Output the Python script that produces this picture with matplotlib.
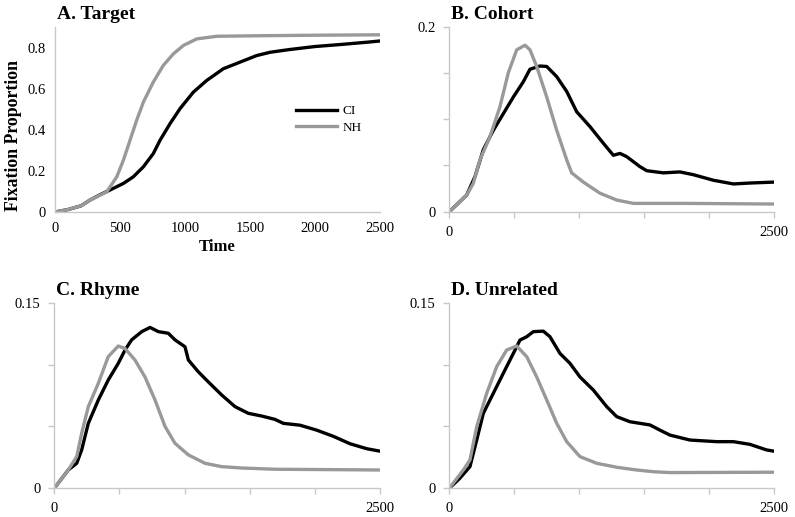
import numpy as np
import matplotlib
matplotlib.use("Agg")
import matplotlib.pyplot as plt
from matplotlib.ticker import FixedLocator, FixedFormatter

plt.rcParams['font.family'] = ['Liberation Serif', 'DejaVu Serif']

# ---- data ----
a_ci_t = [0, 100, 200, 269, 350, 423, 526, 602, 680, 756, 808, 885, 962, 1064, 1167, 1295, 1423,
          1551, 1654, 1800, 2000, 2200, 2400, 2500]
a_ci_v = [0.0, 0.012, 0.03, 0.058, 0.085, 0.107, 0.139, 0.171, 0.22, 0.284, 0.349, 0.43, 0.503,
          0.583, 0.64, 0.697, 0.729, 0.761, 0.777, 0.79, 0.805, 0.815, 0.826, 0.832]
a_nh_t = [0, 100, 200, 269, 398, 475, 526, 577, 628, 680, 756, 833, 910, 987, 1090, 1244, 1654,
          2000, 2500]
a_nh_v = [0.0, 0.012, 0.03, 0.058, 0.098, 0.171, 0.252, 0.349, 0.446, 0.535, 0.632, 0.713, 0.769,
          0.81, 0.842, 0.855, 0.858, 0.86, 0.862]

b_ci_t = [0, 60, 134, 198, 262, 339, 416, 493, 570, 621, 698, 750, 827, 904, 981, 1083, 1186, 1263,
          1314, 1366, 1468, 1520, 1648, 1776, 1879, 2033, 2187, 2315, 2500]
b_ci_v = [0.0, 0.008, 0.018, 0.038, 0.067, 0.088, 0.106, 0.124, 0.1405, 0.154, 0.1575, 0.157,
          0.146, 0.130, 0.108, 0.092, 0.074, 0.061, 0.063, 0.0595, 0.0487, 0.0443, 0.042, 0.043,
          0.040, 0.034, 0.030, 0.031, 0.032]
b_nh_t = [0, 60, 134, 185, 236, 313, 390, 454, 519, 583, 621, 673, 750, 827, 904, 942, 1032, 1160,
          1289, 1417, 1800, 2500]
b_nh_v = [0.0, 0.008, 0.018, 0.0307, 0.056, 0.081, 0.1135, 0.150, 0.175, 0.180, 0.175, 0.157,
          0.124, 0.088, 0.056, 0.042, 0.032, 0.020, 0.0126, 0.009, 0.009, 0.0083]

c_ci_t = [0, 107, 172, 210, 261, 338, 414, 491, 543, 594, 671, 735, 799, 875, 926, 1003, 1029,
          1105, 1182, 1285, 1387, 1489, 1592, 1694, 1758, 1886, 2014, 2142, 2270, 2398, 2500]
c_ci_v = [0.0, 0.0148, 0.0202, 0.031, 0.0525, 0.0714, 0.0875, 0.101, 0.1118, 0.120, 0.1266, 0.130,
          0.1266, 0.1253, 0.120, 0.1144, 0.1037, 0.0942, 0.086, 0.0754, 0.066, 0.0606, 0.0584,
          0.0557, 0.0525, 0.051, 0.047, 0.042, 0.036, 0.032, 0.030]
c_nh_t = [0, 107, 172, 210, 261, 338, 414, 491, 543, 619, 696, 773, 850, 926, 1029, 1157, 1285,
          1438, 1694, 2500]
c_nh_v = [0.0, 0.0148, 0.0256, 0.0444, 0.066, 0.0849, 0.1064, 0.115, 0.113, 0.1037, 0.090, 0.0714,
          0.050, 0.0364, 0.027, 0.0202, 0.0175, 0.0164, 0.0154, 0.0148]

d_ci_t = [0, 80, 159, 211, 262, 339, 416, 493, 544, 596, 647, 724, 775, 852, 929, 1006, 1109, 1212,
          1289, 1391, 1545, 1622, 1699, 1853, 2058, 2187, 2315, 2443, 2500]
d_ci_v = [0.0, 0.008, 0.0175, 0.039, 0.0606, 0.0768, 0.093, 0.109, 0.1198, 0.1225, 0.1266, 0.127,
          0.1225, 0.109, 0.101, 0.090, 0.0794, 0.066, 0.0579, 0.0538, 0.0512, 0.047, 0.043, 0.039,
          0.0377, 0.0377, 0.0355, 0.031, 0.030]
d_nh_t = [0, 108, 159, 211, 288, 365, 442, 519, 596, 673, 750, 827, 904, 1006, 1135, 1289, 1443,
          1571, 1700, 2500]
d_nh_v = [0.0, 0.0148, 0.0229, 0.0498, 0.0768, 0.0983, 0.1118, 0.115, 0.1064, 0.090, 0.0714,
          0.0525, 0.0377, 0.0256, 0.0202, 0.017, 0.0148, 0.0134, 0.0127, 0.013]

titles = ["A. Target", "B. Cohort", "C. Rhyme", "D. Unrelated"]
ylims = [0.9, 0.2, 0.15, 0.15]
series_names = ["CI", "NH"]

W, H = 795, 517
fig = plt.figure(figsize=(W / 100, H / 100), dpi=100)

def box(l, t, r, b):
    return [l / W, 1 - b / H, (r - l) / W, (b - t) / H]

boxes = [box(55, 27, 380, 212), box(449.3, 26.7, 774, 211.7),
         box(54.3, 302.7, 380, 488.3), box(449.3, 302.7, 774, 488.3)]

data = [(a_ci_t, a_ci_v, a_nh_t, a_nh_v), (b_ci_t, b_ci_v, b_nh_t, b_nh_v),
        (c_ci_t, c_ci_v, c_nh_t, c_nh_v), (d_ci_t, d_ci_v, d_nh_t, d_nh_v)]

spine_col = '#c8c8c8'
for i, (bx, title, ymax, d) in enumerate(zip(boxes, titles, ylims, data)):
    ax = fig.add_axes(bx)
    ci_t, ci_v, nh_t, nh_v = d
    l1, = ax.plot(ci_t, ci_v, color='black', lw=2.4, label=series_names[0], solid_joinstyle='round')
    l2, = ax.plot(nh_t, nh_v, color='#999999', lw=2.4, label=series_names[1], solid_joinstyle='round')
    ax.set_xlim(0, 2500)
    ax.set_ylim(0, ymax)
    for s in ['top', 'right']:
        ax.spines[s].set_visible(False)
    for s in ['left', 'bottom']:
        ax.spines[s].set_color(spine_col)
        ax.spines[s].set_linewidth(1.0)
    if i == 0:
        ax.set_xticks([0, 500, 1000, 1500, 2000, 2500])
        ax.set_xticklabels(['0', '500', '1000', '1500', '2000', '2500'])
        ax.set_yticks([0, 0.2, 0.4, 0.6, 0.8])
        ax.set_yticklabels(['0', '0.2', '0.4', '0.6', '0.8'])
        ax.tick_params(length=0, labelsize=10.5, pad=7)
        ax.set_xlabel('Time', fontsize=12, fontweight='bold', labelpad=3)
        ax.set_ylabel('Fixation Proportion', fontsize=12.8, fontweight='bold', labelpad=3)
        ax.yaxis.set_label_coords(-0.10, 0.416)
        ax.legend(handles=[l1, l2], loc='upper left', bbox_to_anchor=(296 / W, 1 - 105 / H),
                  bbox_transform=fig.transFigure, frameon=False, fontsize=9.5,
                  handlelength=3.1, handletextpad=0.4, borderpad=0, borderaxespad=0,
                  labelspacing=0.35)
    else:
        xt = [0, 500, 1000, 1500, 2000, 2500]
        ax.xaxis.set_major_locator(FixedLocator(xt))
        ax.xaxis.set_major_formatter(FixedFormatter(['0', '', '', '', '', '2500']))
        yt = list(np.arange(0, ymax + 1e-9, 0.05))
        ax.yaxis.set_major_locator(FixedLocator(yt))
        ylab = [''] * len(yt)
        ylab[0] = '0'
        ylab[-1] = ('%.2f' % ymax).rstrip('0').rstrip('.')
        ax.yaxis.set_major_formatter(FixedFormatter(ylab))
        ax.tick_params(direction='out', length=4, width=1, color=spine_col, labelsize=10.5, pad=6)
    ax.text(0.005, 1.02, title, transform=ax.transAxes, fontsize=14, fontweight='bold',
            ha='left', va='bottom')

fig.savefig('out.png', dpi=100)
